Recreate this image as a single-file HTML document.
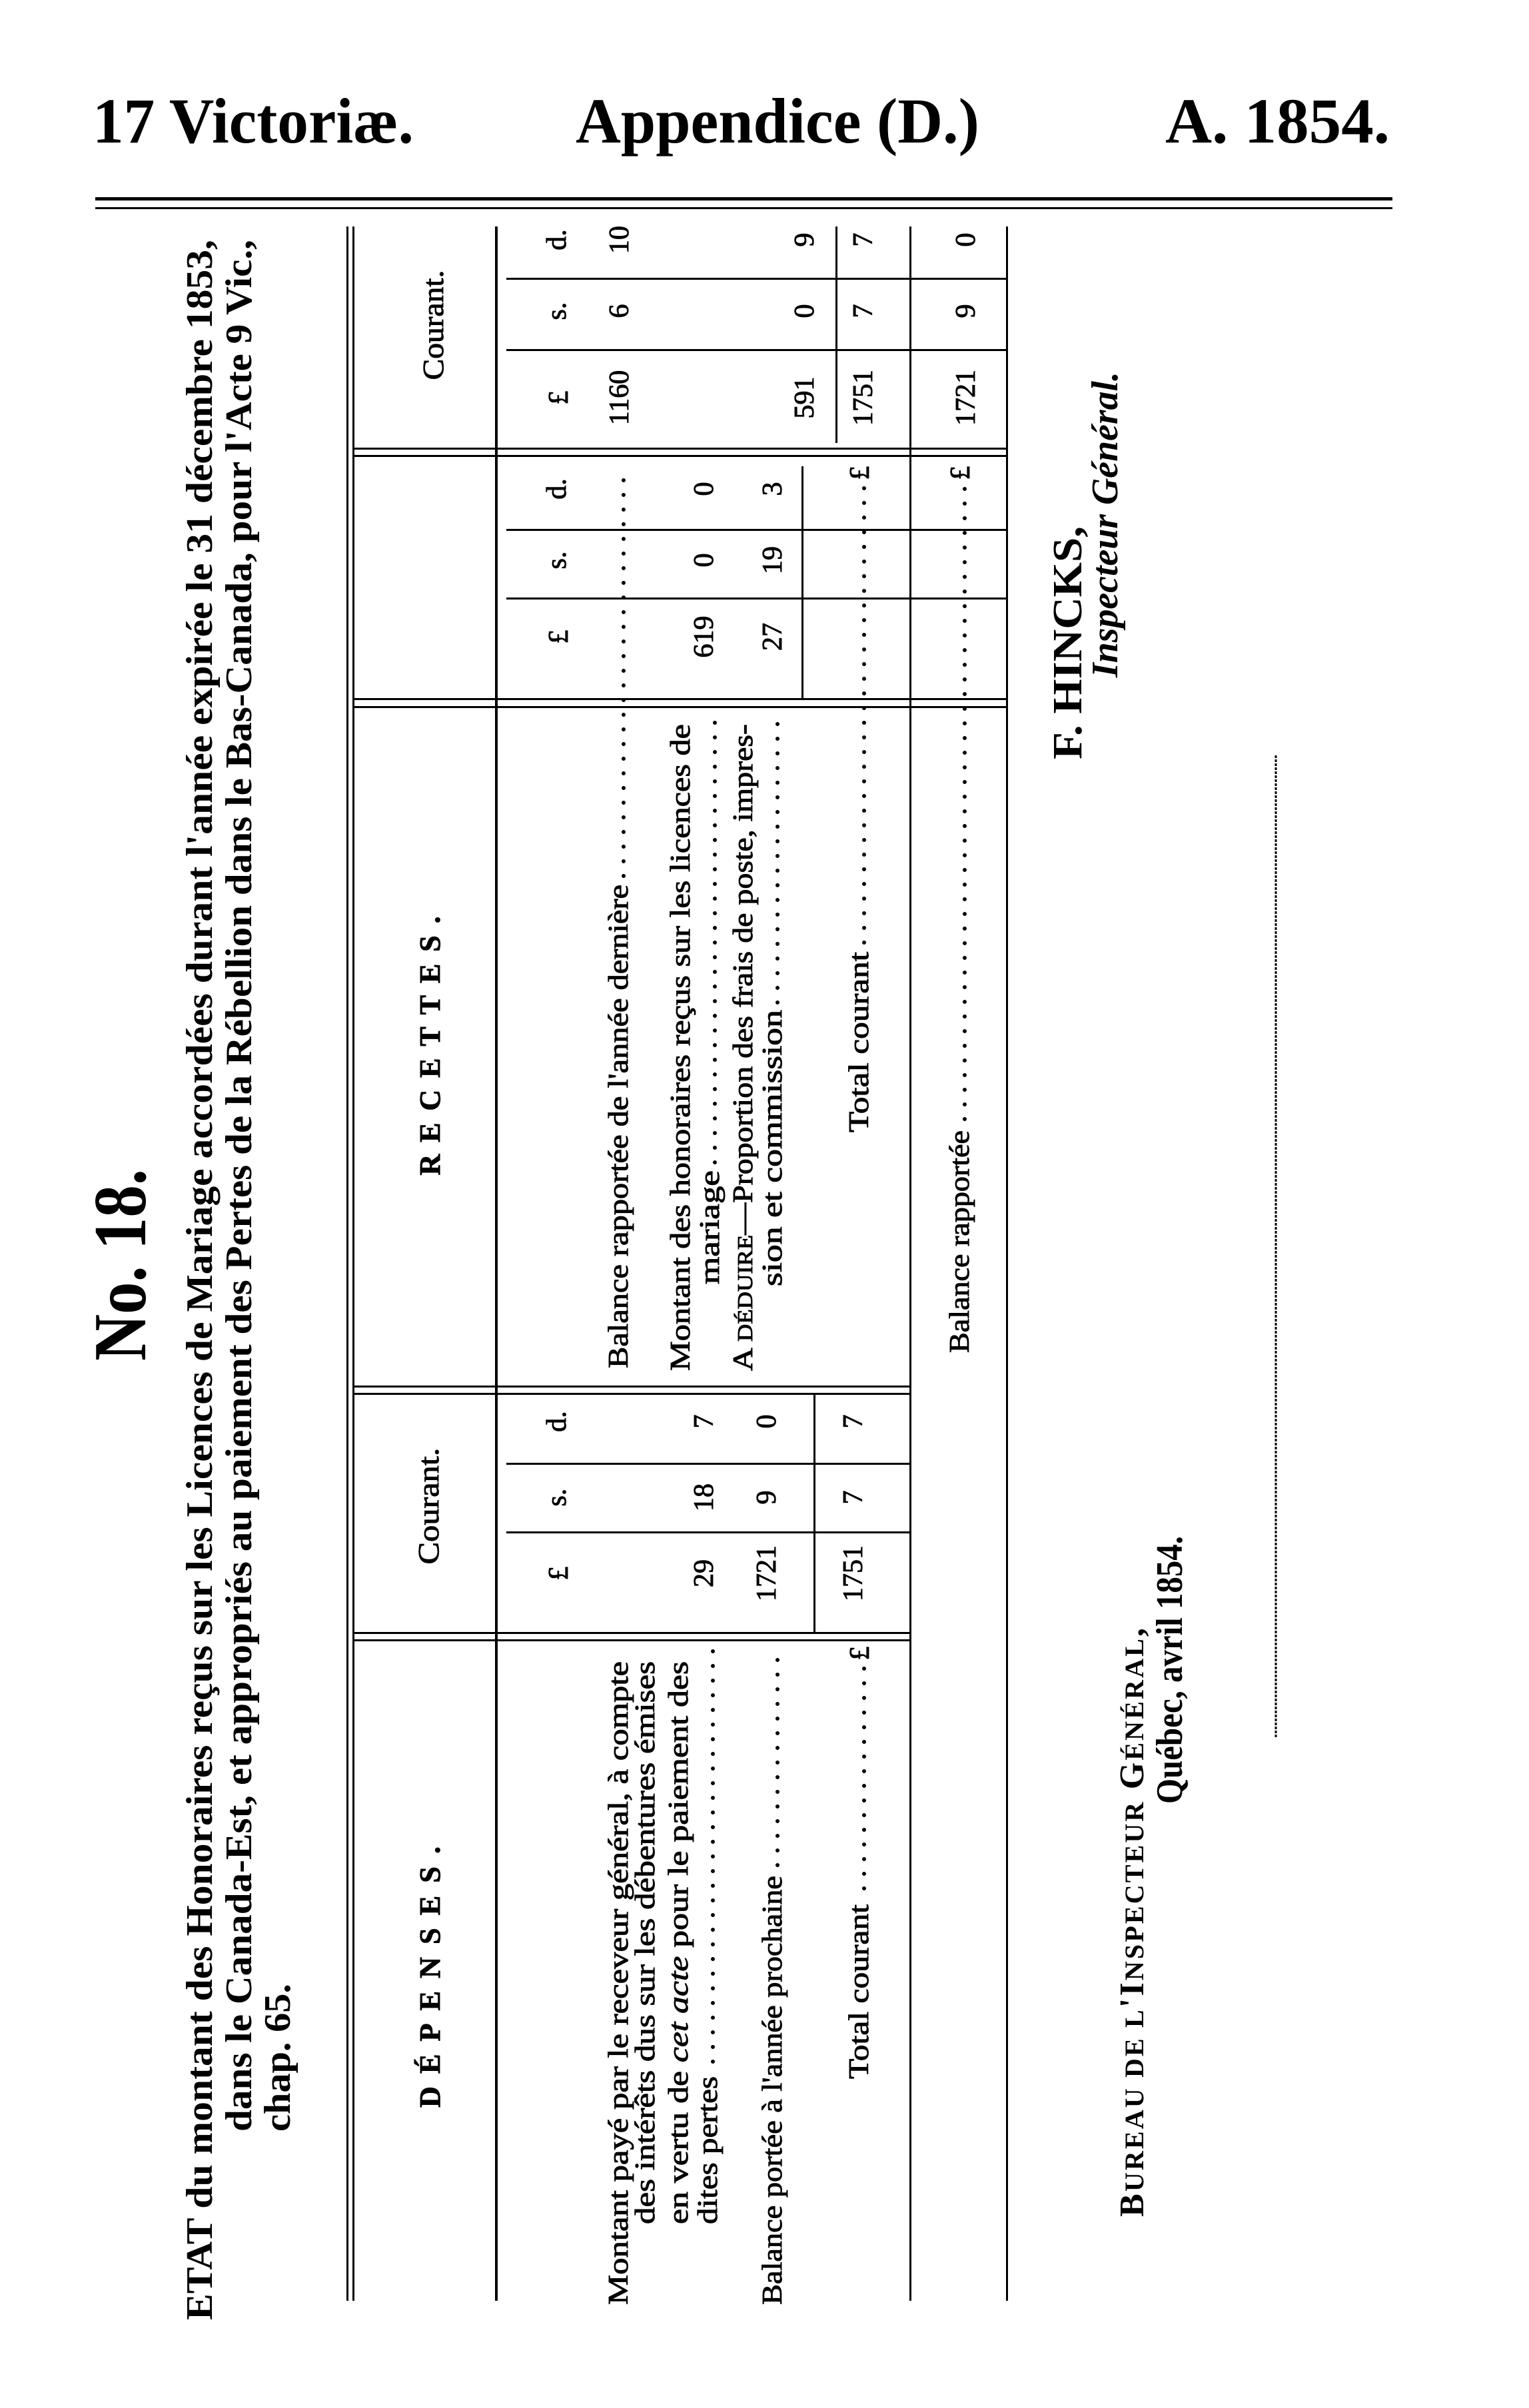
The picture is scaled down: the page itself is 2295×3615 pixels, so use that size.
<!DOCTYPE html>
<html><head><meta charset="utf-8"><style>
html,body{margin:0;padding:0;background:#fff;}
svg{display:block;}
text{font-family:"Liberation Serif",serif;fill:#000;}
.b text{stroke:#000;stroke-width:0.9;}
</style></head><body>
<svg width="2295" height="3615" viewBox="0 0 2295 3615" xmlns="http://www.w3.org/2000/svg">
<rect width="2295" height="3615" fill="#fff"/>
<!-- Header -->
<text x="139" y="214" font-size="96" font-weight="bold" textLength="482" lengthAdjust="spacingAndGlyphs">17 Victoriæ.</text>
<text x="864" y="214" font-size="96" font-weight="bold" textLength="606" lengthAdjust="spacingAndGlyphs">Appendice (D.)</text>
<text x="1749" y="214" font-size="96" font-weight="bold" textLength="337" lengthAdjust="spacingAndGlyphs">A. 1854.</text>
<rect x="143" y="296" width="1947" height="5" fill="#000"/>
<rect x="143" y="311" width="1947" height="3" fill="#000"/>

<g transform="translate(0,3615) rotate(-90)">
<!-- Title -->
<text x="132" y="318" font-size="56" font-weight="bold" textLength="3123" lengthAdjust="spacingAndGlyphs">ETAT du montant des Honoraires reçus sur les Licences de Mariage accordées durant l'année expirée le 31 décembre 1853,</text>
<text x="415" y="377" font-size="56" font-weight="bold" textLength="2840" lengthAdjust="spacingAndGlyphs">dans le Canada-Est, et appropriés au paiement des Pertes de la Rébellion dans le Bas-Canada, pour l'Acte 9 Vic.,</text>
<text x="415" y="435" font-size="56" font-weight="bold" textLength="222" lengthAdjust="spacingAndGlyphs">chap. 65.</text>
<text x="1572" y="218" font-size="112" font-weight="bold" textLength="288" lengthAdjust="spacingAndGlyphs">No. 18.</text>

<g fill="#000">
<rect x="161" y="520" width="3114" height="3"/>
<rect x="161" y="529" width="3114" height="3"/>
<rect x="161" y="743" width="3114" height="4"/>
<rect x="161" y="1365" width="3114" height="3"/>
<rect x="161" y="1510" width="3114" height="3"/>
<rect x="2950" y="1254" width="325" height="3"/>
<rect x="2567" y="1203" width="348" height="3"/>
<rect x="1163" y="1221" width="358" height="3"/>
<rect x="2940" y="531" width="3" height="981"/>
<rect x="2929" y="531" width="3" height="981"/>
<rect x="2564" y="531" width="3" height="981"/>
<rect x="2552" y="531" width="3" height="981"/>
<rect x="1532" y="531" width="3" height="836"/>
<rect x="1521" y="531" width="3" height="836"/>
<rect x="1162" y="531" width="3" height="836"/>
<rect x="1151" y="531" width="3" height="836"/>
<rect x="3195" y="760" width="3" height="752"/>
<rect x="3088" y="760" width="3" height="752"/>
<rect x="2818" y="760" width="3" height="752"/>
<rect x="2715" y="760" width="3" height="752"/>
<rect x="1416" y="760" width="3" height="607"/>
<rect x="1313" y="760" width="3" height="607"/>
</g>

<g class="b">
<text x="2045" y="660" font-size="44" font-weight="bold" text-anchor="middle" textLength="389" lengthAdjust="spacing">RECETTES.</text>
<text x="647" y="660" font-size="44" font-weight="bold" text-anchor="middle" textLength="392" lengthAdjust="spacing">DÉPENSES.</text>
<text x="3127" y="665" font-size="44" text-anchor="middle" textLength="165" lengthAdjust="spacingAndGlyphs">Courant.</text>
<text x="1354" y="658" font-size="44" text-anchor="middle" textLength="175" lengthAdjust="spacingAndGlyphs">Courant.</text>

<g font-size="42" text-anchor="middle">
<text x="3255" y="849">d.</text><text x="3148" y="849">s.</text><text x="3018" y="852">£</text>
<text x="3255" y="943">10</text><text x="3148" y="943">6</text><text x="3018" y="943">1160</text>
<text x="3255" y="1221">9</text><text x="3148" y="1221">0</text><text x="3018" y="1221">591</text>
<text x="3255" y="1309">7</text><text x="3148" y="1309">7</text><text x="3018" y="1309">1751</text>
<text x="3255" y="1463">0</text><text x="3148" y="1463">9</text><text x="3018" y="1463">1721</text>
<text x="2881" y="849">d.</text><text x="2774" y="849">s.</text><text x="2659" y="852">£</text>
<text x="2881" y="1070">0</text><text x="2774" y="1070">0</text><text x="2659" y="1070">619</text>
<text x="2881" y="1173">3</text><text x="2774" y="1173">19</text><text x="2659" y="1173">27</text>
<text x="2905" y="1304">£</text><text x="2905" y="1455">£</text>
<text x="1481" y="849">d.</text><text x="1367" y="849">s.</text><text x="1253" y="852">£</text>
<text x="1481" y="1070">7</text><text x="1367" y="1070">18</text><text x="1253" y="1070">29</text>
<text x="1481" y="1164">0</text><text x="1367" y="1164">9</text><text x="1253" y="1164">1721</text>
<text x="1481" y="1294">7</text><text x="1367" y="1294">7</text><text x="1253" y="1294">1751</text>
<text x="1133" y="1304">£</text>
</g>

<g font-size="42">
<text x="1561" y="942" textLength="726" lengthAdjust="spacingAndGlyphs">Balance rapportée de l'année dernière</text>
<text x="1557" y="1035" textLength="971" lengthAdjust="spacingAndGlyphs">Montant des honoraires  reçus sur les licences de</text>
<text x="1687" y="1079" textLength="171" lengthAdjust="spacingAndGlyphs">mariage</text>
<text x="1557" y="1129" textLength="971" lengthAdjust="spacingAndGlyphs">A <tspan font-size="32">DÉDUIRE</tspan>—Proportion des frais de poste, impres-</text>
<text x="1684" y="1173" textLength="415" lengthAdjust="spacingAndGlyphs">sion et commission</text>
<text x="1915" y="1303" textLength="271" lengthAdjust="spacingAndGlyphs">Total courant</text>
<text x="1584" y="1454" textLength="334" lengthAdjust="spacingAndGlyphs">Balance rapportée</text>
<text x="155" y="942" textLength="966" lengthAdjust="spacingAndGlyphs">Montant payé par le receveur  général, à compte</text>
<text x="276" y="982" textLength="845" lengthAdjust="spacingAndGlyphs">des intérêts dus sur les débentures  émises</text>
<text x="276" y="1032" textLength="845" lengthAdjust="spacingAndGlyphs">en vertu de <tspan font-style="italic">cet acte</tspan> pour le paiement des</text>
<text x="276" y="1076" textLength="222" lengthAdjust="spacingAndGlyphs">dites pertes</text>
<text x="155" y="1173" textLength="644" lengthAdjust="spacingAndGlyphs">Balance portée à l'année prochaine</text>
<text x="494" y="1303" textLength="262" lengthAdjust="spacingAndGlyphs">Total courant</text>
</g>
</g>

<g stroke="#000" stroke-width="6" stroke-linecap="round" stroke-dasharray="0 22">
<line x1="2300" y1="936" x2="2910" y2="936"/>
<line x1="1870" y1="1073" x2="2540" y2="1073"/>
<line x1="2110" y1="1167" x2="2540" y2="1167"/>
<line x1="2200" y1="1297" x2="2890" y2="1297"/>
<line x1="1935" y1="1448" x2="2890" y2="1448"/>
<line x1="520" y1="1070" x2="1140" y2="1070"/>
<line x1="815" y1="1167" x2="1140" y2="1167"/>
<line x1="780" y1="1297" x2="1115" y2="1297"/>
</g>

<text x="2475" y="1623" font-size="62" font-weight="bold" textLength="350" lengthAdjust="spacingAndGlyphs">F. HINCKS,</text>
<text x="2598" y="1677" font-size="56" font-style="italic" font-weight="bold" textLength="459" lengthAdjust="spacingAndGlyphs">Inspecteur Général.</text>
<text x="287" y="1716" font-size="52" font-weight="bold" textLength="884" lengthAdjust="spacing">B<tspan font-size="40">UREAU DE L</tspan>'I<tspan font-size="40">NSPECTEUR</tspan> G<tspan font-size="40">ÉNÉRAL</tspan>,</text>
<text x="907" y="1774" font-size="56" font-weight="bold" textLength="402" lengthAdjust="spacingAndGlyphs">Québec, avril 1854.</text>

<line x1="1007" y1="1915" x2="2482" y2="1915" stroke="#000" stroke-width="3" stroke-dasharray="4 2"/>
</g>
</svg>
</body></html>
